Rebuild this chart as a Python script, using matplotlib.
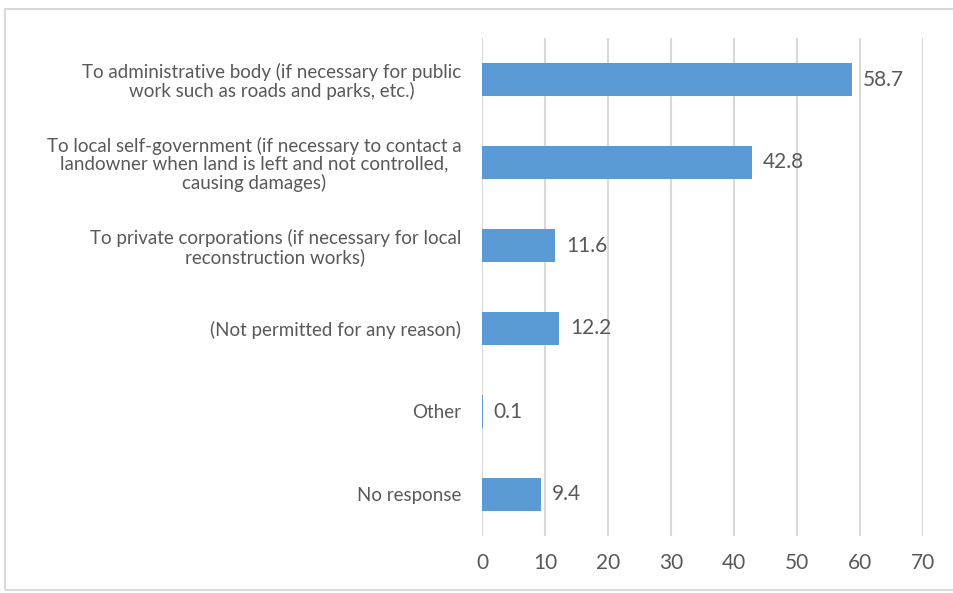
import matplotlib.pyplot as plt
from matplotlib.patches import Rectangle

categories = [
    "To administrative body (if necessary for public\nwork such as roads and parks, etc.)",
    "To local self-government (if necessary to contact a\nlandowner when land is left and not controlled,\ncausing damages)",
    "To private corporations (if necessary for local\nreconstruction works)",
    "(Not permitted for any reason)",
    "Other",
    "No response",
]
values = [58.7, 42.8, 11.6, 12.2, 0.1, 9.4]
xticks = [0, 10, 20, 30, 40, 50, 60, 70]

plt.rcParams['font.family'] = ['Lato', 'DejaVu Sans']
text_color = "#595959"

fig = plt.figure(figsize=(9.54, 5.93), dpi=100)
W, H = 954, 593
ax = fig.add_axes([482 / W, 1 - 536 / H, (923 - 482) / W, (536 - 38) / H])

# chart border
fig.patches.append(Rectangle((5 / W, 3 / H), 1.2, 1 - 12 / H, transform=fig.transFigure,
                             fill=False, edgecolor="#D9D9D9", linewidth=1.5))

y = list(range(len(categories)))
bars = ax.barh(y, values, height=0.4, color="#5B9BD5", zorder=3)
ax.set_ylim(len(categories) - 0.5, -0.5)
ax.set_xlim(0, 70)
ax.set_xticks(xticks)
ax.set_yticks(y)
ax.set_yticklabels(categories, multialignment="center", fontsize=13.5,
                   color=text_color, linespacing=1.05)
ax.tick_params(axis="x", labelsize=15, colors=text_color, length=0, pad=12)
ax.tick_params(axis="y", length=0, pad=15)
ax.grid(axis="x", color="#D9D9D9", linewidth=1.5, zorder=0)
for s in ax.spines.values():
    s.set_visible(False)

for b, v in zip(bars, values):
    ax.annotate(f"{v:.1f}", (b.get_width(), b.get_y() + b.get_height() / 2),
                xytext=(8, 0), textcoords="offset points", va="center", ha="left",
                fontsize=15, color=text_color)

fig.savefig("out.png", dpi=100)
